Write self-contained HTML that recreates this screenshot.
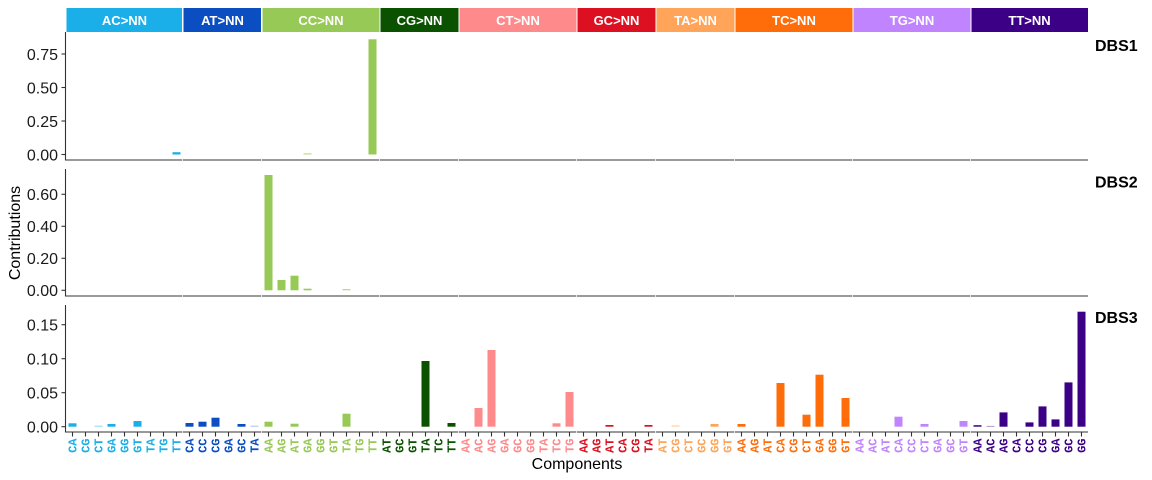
<!DOCTYPE html>
<html>
<head>
<meta charset="utf-8">
<style>
  html,body{margin:0;padding:0;background:#fff;}
  svg{display:block;}
  .tick{font-family:"Liberation Sans",Arial,sans-serif;font-size:16px;fill:#1a1a1a;}
  .strip{font-family:"Liberation Sans",Arial,sans-serif;font-size:13px;font-weight:bold;fill:#fff;}
  .xl{font-family:"Liberation Mono","Courier New",monospace;font-size:12px;font-weight:bold;}
  .ax{font-family:"Liberation Sans",Arial,sans-serif;font-size:16px;fill:#000;}
  .pl{font-family:"Liberation Sans",Arial,sans-serif;font-size:16px;font-weight:bold;fill:#000;}
</style>
</head>
<body>
<svg width="1152" height="480" viewBox="0 0 1152 480" xmlns="http://www.w3.org/2000/svg">
<rect width="1152" height="480" fill="#fff"/>

<!-- Strips -->
<g>
  <rect x="66.5" y="8" width="115.5" height="24" fill="#1AAFE8"/>
  <rect x="183.5" y="8" width="77.5" height="24" fill="#0A4EC2"/>
  <rect x="262.5" y="8" width="117" height="24" fill="#97C956"/>
  <rect x="380.5" y="8" width="78" height="24" fill="#0A5200"/>
  <rect x="459.5" y="8" width="117" height="24" fill="#FF8A8C"/>
  <rect x="577.5" y="8" width="78" height="24" fill="#DC1020"/>
  <rect x="656.5" y="8" width="78" height="24" fill="#FFA458"/>
  <rect x="735.5" y="8" width="117" height="24" fill="#FF6D0B"/>
  <rect x="853.5" y="8" width="117" height="24" fill="#C084FF"/>
  <rect x="971.5" y="8" width="116.5" height="24" fill="#3C0087"/>
  <text class="strip" x="124.5" y="25" text-anchor="middle">AC&gt;NN</text>
  <text class="strip" x="222.5" y="25" text-anchor="middle">AT&gt;NN</text>
  <text class="strip" x="321" y="25" text-anchor="middle">CC&gt;NN</text>
  <text class="strip" x="419.5" y="25" text-anchor="middle">CG&gt;NN</text>
  <text class="strip" x="518" y="25" text-anchor="middle">CT&gt;NN</text>
  <text class="strip" x="616.5" y="25" text-anchor="middle">GC&gt;NN</text>
  <text class="strip" x="695.5" y="25" text-anchor="middle">TA&gt;NN</text>
  <text class="strip" x="794" y="25" text-anchor="middle">TC&gt;NN</text>
  <text class="strip" x="912" y="25" text-anchor="middle">TG&gt;NN</text>
  <text class="strip" x="1029.5" y="25" text-anchor="middle">TT&gt;NN</text>
</g>

<!-- Panel labels -->
<text class="pl" x="1095" y="51">DBS1</text>
<text class="pl" x="1095" y="187.5">DBS2</text>
<text class="pl" x="1095" y="323">DBS3</text>

<!-- Axes lines -->
<g stroke="#333" stroke-width="1.1" fill="none">
  <!-- panel 1 -->
  <line x1="65.5" y1="32" x2="65.5" y2="160.5"/>
  <line x1="65" y1="160" x2="182.3" y2="160"/>
  <line x1="183" y1="160" x2="261.3" y2="160"/>
  <line x1="262" y1="160" x2="379.3" y2="160"/>
  <line x1="380" y1="160" x2="458.3" y2="160"/>
  <line x1="459" y1="160" x2="576.3" y2="160"/>
  <line x1="577" y1="160" x2="655.3" y2="160"/>
  <line x1="656" y1="160" x2="734.3" y2="160"/>
  <line x1="735" y1="160" x2="852.3" y2="160"/>
  <line x1="853" y1="160" x2="970.3" y2="160"/>
  <line x1="971" y1="160" x2="1088" y2="160"/>
  <!-- panel 2 -->
  <line x1="65.5" y1="169" x2="65.5" y2="296.5"/>
  <line x1="65" y1="296" x2="182.3" y2="296"/>
  <line x1="183" y1="296" x2="261.3" y2="296"/>
  <line x1="262" y1="296" x2="379.3" y2="296"/>
  <line x1="380" y1="296" x2="458.3" y2="296"/>
  <line x1="459" y1="296" x2="576.3" y2="296"/>
  <line x1="577" y1="296" x2="655.3" y2="296"/>
  <line x1="656" y1="296" x2="734.3" y2="296"/>
  <line x1="735" y1="296" x2="852.3" y2="296"/>
  <line x1="853" y1="296" x2="970.3" y2="296"/>
  <line x1="971" y1="296" x2="1088" y2="296"/>
  <!-- panel 3 -->
  <line x1="65.5" y1="305" x2="65.5" y2="432.5"/>
  <line x1="65" y1="432" x2="182.3" y2="432"/>
  <line x1="183" y1="432" x2="261.3" y2="432"/>
  <line x1="262" y1="432" x2="379.3" y2="432"/>
  <line x1="380" y1="432" x2="458.3" y2="432"/>
  <line x1="459" y1="432" x2="576.3" y2="432"/>
  <line x1="577" y1="432" x2="655.3" y2="432"/>
  <line x1="656" y1="432" x2="734.3" y2="432"/>
  <line x1="735" y1="432" x2="852.3" y2="432"/>
  <line x1="853" y1="432" x2="970.3" y2="432"/>
  <line x1="971" y1="432" x2="1088" y2="432"/>
  <!-- y ticks -->
  <line x1="61.5" y1="154.5" x2="65.5" y2="154.5"/>
  <line x1="61.5" y1="121" x2="65.5" y2="121"/>
  <line x1="61.5" y1="87.5" x2="65.5" y2="87.5"/>
  <line x1="61.5" y1="54" x2="65.5" y2="54"/>
  <line x1="61.5" y1="290.3" x2="65.5" y2="290.3"/>
  <line x1="61.5" y1="258.3" x2="65.5" y2="258.3"/>
  <line x1="61.5" y1="226.3" x2="65.5" y2="226.3"/>
  <line x1="61.5" y1="194.3" x2="65.5" y2="194.3"/>
  <line x1="61.5" y1="426.7" x2="65.5" y2="426.7"/>
  <line x1="61.5" y1="392.7" x2="65.5" y2="392.7"/>
  <line x1="61.5" y1="358.7" x2="65.5" y2="358.7"/>
  <line x1="61.5" y1="324.7" x2="65.5" y2="324.7"/>
</g>

<!-- x ticks -->
<g stroke="#333" stroke-width="1.1">
  <line x1="72.5" y1="432" x2="72.5" y2="436.5"/><line x1="85.5" y1="432" x2="85.5" y2="436.5"/><line x1="98.5" y1="432" x2="98.5" y2="436.5"/><line x1="111.5" y1="432" x2="111.5" y2="436.5"/><line x1="124.5" y1="432" x2="124.5" y2="436.5"/><line x1="137.5" y1="432" x2="137.5" y2="436.5"/><line x1="150.5" y1="432" x2="150.5" y2="436.5"/><line x1="163.5" y1="432" x2="163.5" y2="436.5"/><line x1="176.5" y1="432" x2="176.5" y2="436.5"/>
  <line x1="189.5" y1="432" x2="189.5" y2="436.5"/><line x1="202.5" y1="432" x2="202.5" y2="436.5"/><line x1="215.5" y1="432" x2="215.5" y2="436.5"/><line x1="228.5" y1="432" x2="228.5" y2="436.5"/><line x1="241.5" y1="432" x2="241.5" y2="436.5"/><line x1="254.5" y1="432" x2="254.5" y2="436.5"/>
  <line x1="268.5" y1="432" x2="268.5" y2="436.5"/><line x1="281.5" y1="432" x2="281.5" y2="436.5"/><line x1="294.5" y1="432" x2="294.5" y2="436.5"/><line x1="307.5" y1="432" x2="307.5" y2="436.5"/><line x1="320.5" y1="432" x2="320.5" y2="436.5"/><line x1="333.5" y1="432" x2="333.5" y2="436.5"/><line x1="346.5" y1="432" x2="346.5" y2="436.5"/><line x1="359.5" y1="432" x2="359.5" y2="436.5"/><line x1="372.5" y1="432" x2="372.5" y2="436.5"/>
  <line x1="386.5" y1="432" x2="386.5" y2="436.5"/><line x1="399.5" y1="432" x2="399.5" y2="436.5"/><line x1="412.5" y1="432" x2="412.5" y2="436.5"/><line x1="425.5" y1="432" x2="425.5" y2="436.5"/><line x1="438.5" y1="432" x2="438.5" y2="436.5"/><line x1="451.5" y1="432" x2="451.5" y2="436.5"/>
  <line x1="465.5" y1="432" x2="465.5" y2="436.5"/><line x1="478.5" y1="432" x2="478.5" y2="436.5"/><line x1="491.5" y1="432" x2="491.5" y2="436.5"/><line x1="504.5" y1="432" x2="504.5" y2="436.5"/><line x1="517.5" y1="432" x2="517.5" y2="436.5"/><line x1="530.5" y1="432" x2="530.5" y2="436.5"/><line x1="543.5" y1="432" x2="543.5" y2="436.5"/><line x1="556.5" y1="432" x2="556.5" y2="436.5"/><line x1="569.5" y1="432" x2="569.5" y2="436.5"/>
  <line x1="583.5" y1="432" x2="583.5" y2="436.5"/><line x1="596.5" y1="432" x2="596.5" y2="436.5"/><line x1="609.5" y1="432" x2="609.5" y2="436.5"/><line x1="622.5" y1="432" x2="622.5" y2="436.5"/><line x1="635.5" y1="432" x2="635.5" y2="436.5"/><line x1="648.5" y1="432" x2="648.5" y2="436.5"/>
  <line x1="662.5" y1="432" x2="662.5" y2="436.5"/><line x1="675.5" y1="432" x2="675.5" y2="436.5"/><line x1="688.5" y1="432" x2="688.5" y2="436.5"/><line x1="701.5" y1="432" x2="701.5" y2="436.5"/><line x1="714.5" y1="432" x2="714.5" y2="436.5"/><line x1="727.5" y1="432" x2="727.5" y2="436.5"/>
  <line x1="741.5" y1="432" x2="741.5" y2="436.5"/><line x1="754.5" y1="432" x2="754.5" y2="436.5"/><line x1="767.5" y1="432" x2="767.5" y2="436.5"/><line x1="780.5" y1="432" x2="780.5" y2="436.5"/><line x1="793.5" y1="432" x2="793.5" y2="436.5"/><line x1="806.5" y1="432" x2="806.5" y2="436.5"/><line x1="819.5" y1="432" x2="819.5" y2="436.5"/><line x1="832.5" y1="432" x2="832.5" y2="436.5"/><line x1="845.5" y1="432" x2="845.5" y2="436.5"/>
  <line x1="859.5" y1="432" x2="859.5" y2="436.5"/><line x1="872.5" y1="432" x2="872.5" y2="436.5"/><line x1="885.5" y1="432" x2="885.5" y2="436.5"/><line x1="898.5" y1="432" x2="898.5" y2="436.5"/><line x1="911.5" y1="432" x2="911.5" y2="436.5"/><line x1="924.5" y1="432" x2="924.5" y2="436.5"/><line x1="937.5" y1="432" x2="937.5" y2="436.5"/><line x1="950.5" y1="432" x2="950.5" y2="436.5"/><line x1="963.5" y1="432" x2="963.5" y2="436.5"/>
  <line x1="977.5" y1="432" x2="977.5" y2="436.5"/><line x1="990.5" y1="432" x2="990.5" y2="436.5"/><line x1="1003.5" y1="432" x2="1003.5" y2="436.5"/><line x1="1016.5" y1="432" x2="1016.5" y2="436.5"/><line x1="1029.5" y1="432" x2="1029.5" y2="436.5"/><line x1="1042.5" y1="432" x2="1042.5" y2="436.5"/><line x1="1055.5" y1="432" x2="1055.5" y2="436.5"/><line x1="1068.5" y1="432" x2="1068.5" y2="436.5"/><line x1="1081.5" y1="432" x2="1081.5" y2="436.5"/>
</g>

<!-- y tick labels -->
<g class="tick" text-anchor="end">
  <text x="58" y="160.3">0.00</text>
  <text x="58" y="126.8">0.25</text>
  <text x="58" y="93.3">0.50</text>
  <text x="58" y="59.8">0.75</text>
  <text x="58" y="296.1">0.00</text>
  <text x="58" y="264.1">0.20</text>
  <text x="58" y="232.1">0.40</text>
  <text x="58" y="200.1">0.60</text>
  <text x="58" y="432.5">0.00</text>
  <text x="58" y="398.5">0.05</text>
  <text x="58" y="364.5">0.10</text>
  <text x="58" y="330.5">0.15</text>
</g>

<!-- Panel 1 bars (zero 154.5) -->
<g>
  <rect x="172.5" y="152.2" width="8" height="2.3" fill="#1AAFE8"/>
  <rect x="303.5" y="153.3" width="8" height="1.2" fill="#B9DC8E"/>
  <rect x="368.5" y="39.3" width="8" height="115.2" fill="#97C956"/>
</g>

<!-- Panel 2 bars (zero 290.3) -->
<g fill="#97C956">
  <rect x="264.5" y="175" width="8" height="115.3"/>
  <rect x="277.5" y="280" width="8" height="10.3"/>
  <rect x="290.5" y="275.7" width="8" height="14.6"/>
  <rect x="303.5" y="288.7" width="8" height="1.6"/>
  <rect x="342.5" y="289" width="8" height="1.3" fill="#B9DC8E"/>
</g>

<!-- Panel 3 bars (zero 426.7) -->
<g>
  <!-- AC -->
  <rect x="68.5" y="423.3" width="8" height="3.4" fill="#1AAFE8"/>
  <rect x="94.5" y="425.7" width="8" height="1" fill="#8FD5F2"/>
  <rect x="107.5" y="424" width="8" height="2.7" fill="#1AAFE8"/>
  <rect x="133.5" y="421" width="8" height="5.7" fill="#1AAFE8"/>
  <!-- AT -->
  <rect x="185.5" y="423" width="8" height="3.7" fill="#0A4EC2"/>
  <rect x="198.5" y="421.7" width="8" height="5" fill="#0A4EC2"/>
  <rect x="211.5" y="417.7" width="8" height="9" fill="#0A4EC2"/>
  <rect x="237.5" y="424" width="8" height="2.7" fill="#0A4EC2"/>
  <rect x="250.5" y="425.7" width="8" height="1" fill="#A9C2EC"/>
  <!-- CC -->
  <rect x="264.5" y="421.7" width="8" height="5" fill="#97C956"/>
  <rect x="290.5" y="423.7" width="8" height="3" fill="#97C956"/>
  <rect x="342.5" y="413.7" width="8" height="13" fill="#97C956"/>
  <!-- CG -->
  <rect x="421.5" y="361" width="8" height="65.7" fill="#0A5200"/>
  <rect x="447.5" y="423" width="8" height="3.7" fill="#0A5200"/>
  <!-- CT -->
  <rect x="474.5" y="408" width="8" height="18.7" fill="#FF8A8C"/>
  <rect x="487.5" y="350" width="8" height="76.7" fill="#FF8A8C"/>
  <rect x="552.5" y="423.3" width="8" height="3.4" fill="#FF8A8C"/>
  <rect x="565.5" y="392" width="8" height="34.7" fill="#FF8A8C"/>
  <!-- GC -->
  <rect x="605.5" y="425" width="8" height="1.7" fill="#DC1020"/>
  <rect x="644.5" y="425" width="8" height="1.7" fill="#DC1020"/>
  <!-- TA -->
  <rect x="671.5" y="425.4" width="8" height="1.3" fill="#FFD2AC"/>
  <rect x="710.5" y="424" width="8" height="2.7" fill="#FFA458"/>
  <!-- TC -->
  <rect x="737.5" y="424" width="8" height="2.7" fill="#FF6D0B"/>
  <rect x="776.5" y="383" width="8" height="43.7" fill="#FF6D0B"/>
  <rect x="802.5" y="414.7" width="8" height="12" fill="#FF6D0B"/>
  <rect x="815.5" y="374.7" width="8" height="52" fill="#FF6D0B"/>
  <rect x="841.5" y="398" width="8" height="28.7" fill="#FF6D0B"/>
  <!-- TG -->
  <rect x="894.5" y="416.7" width="8" height="10" fill="#C084FF"/>
  <rect x="920.5" y="424" width="8" height="2.7" fill="#C084FF"/>
  <rect x="959.5" y="421" width="8" height="5.7" fill="#C084FF"/>
  <!-- TT -->
  <rect x="973.5" y="425.2" width="8" height="1.5" fill="#3C0087"/>
  <rect x="986.5" y="425.9" width="8" height="0.8" fill="#9E80C3"/>
  <rect x="999.5" y="412.4" width="8" height="14.3" fill="#3C0087"/>
  <rect x="1025.5" y="422.4" width="8" height="4.3" fill="#3C0087"/>
  <rect x="1038.5" y="406.4" width="8" height="20.3" fill="#3C0087"/>
  <rect x="1051.5" y="419.4" width="8" height="7.3" fill="#3C0087"/>
  <rect x="1064.5" y="382.4" width="8" height="44.3" fill="#3C0087"/>
  <rect x="1077.5" y="311.7" width="8" height="115" fill="#3C0087"/>
</g>

<!-- X tick labels -->
<g class="xl" text-anchor="end">
  <g fill="#1AAFE8">
    <text transform="translate(76.5,438.5) rotate(-90)">CA</text>
    <text transform="translate(89.5,438.5) rotate(-90)">CG</text>
    <text transform="translate(102.5,438.5) rotate(-90)">CT</text>
    <text transform="translate(115.5,438.5) rotate(-90)">GA</text>
    <text transform="translate(128.5,438.5) rotate(-90)">GG</text>
    <text transform="translate(141.5,438.5) rotate(-90)">GT</text>
    <text transform="translate(154.5,438.5) rotate(-90)">TA</text>
    <text transform="translate(167.5,438.5) rotate(-90)">TG</text>
    <text transform="translate(180.5,438.5) rotate(-90)">TT</text>
  </g>
  <g fill="#0A4EC2">
    <text transform="translate(193.5,438.5) rotate(-90)">CA</text>
    <text transform="translate(206.5,438.5) rotate(-90)">CC</text>
    <text transform="translate(219.5,438.5) rotate(-90)">CG</text>
    <text transform="translate(232.5,438.5) rotate(-90)">GA</text>
    <text transform="translate(245.5,438.5) rotate(-90)">GC</text>
    <text transform="translate(258.5,438.5) rotate(-90)">TA</text>
  </g>
  <g fill="#97C956">
    <text transform="translate(272.5,438.5) rotate(-90)">AA</text>
    <text transform="translate(285.5,438.5) rotate(-90)">AG</text>
    <text transform="translate(298.5,438.5) rotate(-90)">AT</text>
    <text transform="translate(311.5,438.5) rotate(-90)">GA</text>
    <text transform="translate(324.5,438.5) rotate(-90)">GG</text>
    <text transform="translate(337.5,438.5) rotate(-90)">GT</text>
    <text transform="translate(350.5,438.5) rotate(-90)">TA</text>
    <text transform="translate(363.5,438.5) rotate(-90)">TG</text>
    <text transform="translate(376.5,438.5) rotate(-90)">TT</text>
  </g>
  <g fill="#0A5200">
    <text transform="translate(390.5,438.5) rotate(-90)">AT</text>
    <text transform="translate(403.5,438.5) rotate(-90)">GC</text>
    <text transform="translate(416.5,438.5) rotate(-90)">GT</text>
    <text transform="translate(429.5,438.5) rotate(-90)">TA</text>
    <text transform="translate(442.5,438.5) rotate(-90)">TC</text>
    <text transform="translate(455.5,438.5) rotate(-90)">TT</text>
  </g>
  <g fill="#FF8A8C">
    <text transform="translate(469.5,438.5) rotate(-90)">AA</text>
    <text transform="translate(482.5,438.5) rotate(-90)">AC</text>
    <text transform="translate(495.5,438.5) rotate(-90)">AG</text>
    <text transform="translate(508.5,438.5) rotate(-90)">GA</text>
    <text transform="translate(521.5,438.5) rotate(-90)">GC</text>
    <text transform="translate(534.5,438.5) rotate(-90)">GG</text>
    <text transform="translate(547.5,438.5) rotate(-90)">TA</text>
    <text transform="translate(560.5,438.5) rotate(-90)">TC</text>
    <text transform="translate(573.5,438.5) rotate(-90)">TG</text>
  </g>
  <g fill="#DC1020">
    <text transform="translate(587.5,438.5) rotate(-90)">AA</text>
    <text transform="translate(600.5,438.5) rotate(-90)">AG</text>
    <text transform="translate(613.5,438.5) rotate(-90)">AT</text>
    <text transform="translate(626.5,438.5) rotate(-90)">CA</text>
    <text transform="translate(639.5,438.5) rotate(-90)">CG</text>
    <text transform="translate(652.5,438.5) rotate(-90)">TA</text>
  </g>
  <g fill="#FFA458">
    <text transform="translate(666.5,438.5) rotate(-90)">AT</text>
    <text transform="translate(679.5,438.5) rotate(-90)">CG</text>
    <text transform="translate(692.5,438.5) rotate(-90)">CT</text>
    <text transform="translate(705.5,438.5) rotate(-90)">GC</text>
    <text transform="translate(718.5,438.5) rotate(-90)">GG</text>
    <text transform="translate(731.5,438.5) rotate(-90)">GT</text>
  </g>
  <g fill="#FF6D0B">
    <text transform="translate(745.5,438.5) rotate(-90)">AA</text>
    <text transform="translate(758.5,438.5) rotate(-90)">AG</text>
    <text transform="translate(771.5,438.5) rotate(-90)">AT</text>
    <text transform="translate(784.5,438.5) rotate(-90)">CA</text>
    <text transform="translate(797.5,438.5) rotate(-90)">CG</text>
    <text transform="translate(810.5,438.5) rotate(-90)">CT</text>
    <text transform="translate(823.5,438.5) rotate(-90)">GA</text>
    <text transform="translate(836.5,438.5) rotate(-90)">GG</text>
    <text transform="translate(849.5,438.5) rotate(-90)">GT</text>
  </g>
  <g fill="#C084FF">
    <text transform="translate(863.5,438.5) rotate(-90)">AA</text>
    <text transform="translate(876.5,438.5) rotate(-90)">AC</text>
    <text transform="translate(889.5,438.5) rotate(-90)">AT</text>
    <text transform="translate(902.5,438.5) rotate(-90)">CA</text>
    <text transform="translate(915.5,438.5) rotate(-90)">CC</text>
    <text transform="translate(928.5,438.5) rotate(-90)">CT</text>
    <text transform="translate(941.5,438.5) rotate(-90)">GA</text>
    <text transform="translate(954.5,438.5) rotate(-90)">GC</text>
    <text transform="translate(967.5,438.5) rotate(-90)">GT</text>
  </g>
  <g fill="#3C0087">
    <text transform="translate(981.5,438.5) rotate(-90)">AA</text>
    <text transform="translate(994.5,438.5) rotate(-90)">AC</text>
    <text transform="translate(1007.5,438.5) rotate(-90)">AG</text>
    <text transform="translate(1020.5,438.5) rotate(-90)">CA</text>
    <text transform="translate(1033.5,438.5) rotate(-90)">CC</text>
    <text transform="translate(1046.5,438.5) rotate(-90)">CG</text>
    <text transform="translate(1059.5,438.5) rotate(-90)">GA</text>
    <text transform="translate(1072.5,438.5) rotate(-90)">GC</text>
    <text transform="translate(1085.5,438.5) rotate(-90)">GG</text>
  </g>
</g>

<!-- Axis titles -->
<text class="ax" x="577" y="469" text-anchor="middle">Components</text>
<text class="ax" transform="translate(20,233) rotate(-90)" text-anchor="middle">Contributions</text>
</svg>
</body>
</html>
